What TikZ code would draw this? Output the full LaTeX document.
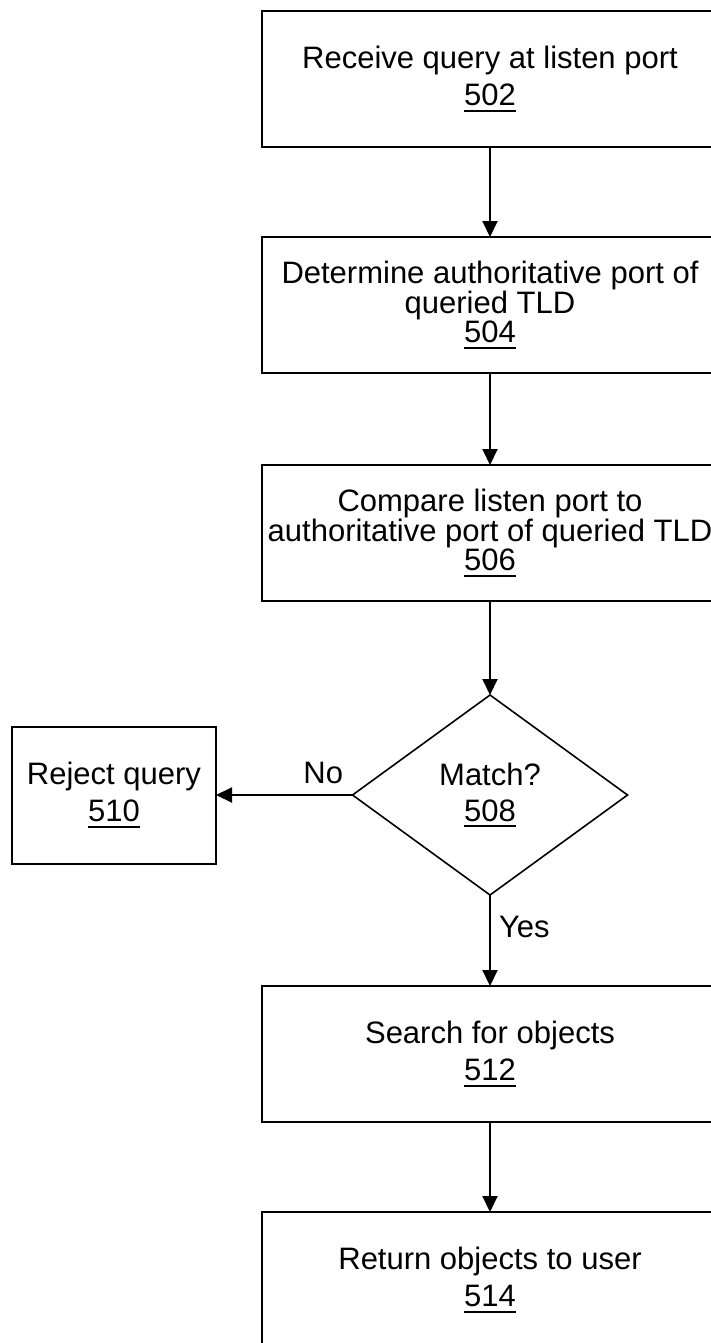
\documentclass[tikz,border=0pt]{standalone}
\usepackage{fontspec}
\setmainfont{Liberation Sans}
\usetikzlibrary{shapes.geometric,arrows.meta}
\newcommand\refnum[1]{\setbox0\hbox{#1}\rlap{\rule[-6pt]{\wd0}{2.2pt}}\box0}
\begin{document}
\begin{tikzpicture}[x=1pt,y=-1pt,
  every node/.style={inner sep=0pt, outer sep=0pt},
  box/.style={draw, line width=2pt, rectangle, align=center,
    minimum width=456pt, minimum height=136pt,
    font=\fontsize{31}{29.5}\selectfont},
  wide/.style={font=\fontsize{31}{37}\selectfont},
  dec/.style={draw, line width=1.6pt, diamond, align=center,
    minimum width=275pt, minimum height=200pt,
    font=\fontsize{31}{36}\selectfont},
  arr/.style={line width=2pt, -{Triangle[length=16pt,width=15pt]}},
  lbl/.style={font=\fontsize{31}{31}\selectfont}]
\useasboundingbox (0,0) rectangle (711,1343);
\clip (0,0) rectangle (711,1343);
\node[box, wide] (b502) at (490,79) {Receive query at listen port\\\refnum{502}};
\node[box] (b504) at (490,305) {Determine authoritative port of\\queried TLD\\\refnum{504}};
\node[box] (b506) at (490,533) {Compare listen port to\\authoritative port of queried TLD\\\refnum{506}};
\node[dec] (d508) at (490,795) {Match?\\\refnum{508}};
\node[box, wide, minimum width=204pt, minimum height=137pt] (b510) at (114,795) {Reject query\\\refnum{510}};
\node[box, wide] (b512) at (490,1054) {Search for objects\\\refnum{512}};
\node[box, wide] (b514) at (490,1280) {Return objects to user\\\refnum{514}};
\draw[arr] (b502) -- (b504);
\draw[arr] (b504) -- (b506);
\draw[arr] (b506) -- (d508);
\draw[arr] (d508.west) -- (b510.east);
\draw[arr] (d508) -- (b512);
\draw[arr] (b512) -- (b514);
\node[lbl, anchor=base east] (lno) at (343,783) {No};
\node[lbl, anchor=base west] (lyes) at (499,937) {Yes};
\end{tikzpicture}
\end{document}
